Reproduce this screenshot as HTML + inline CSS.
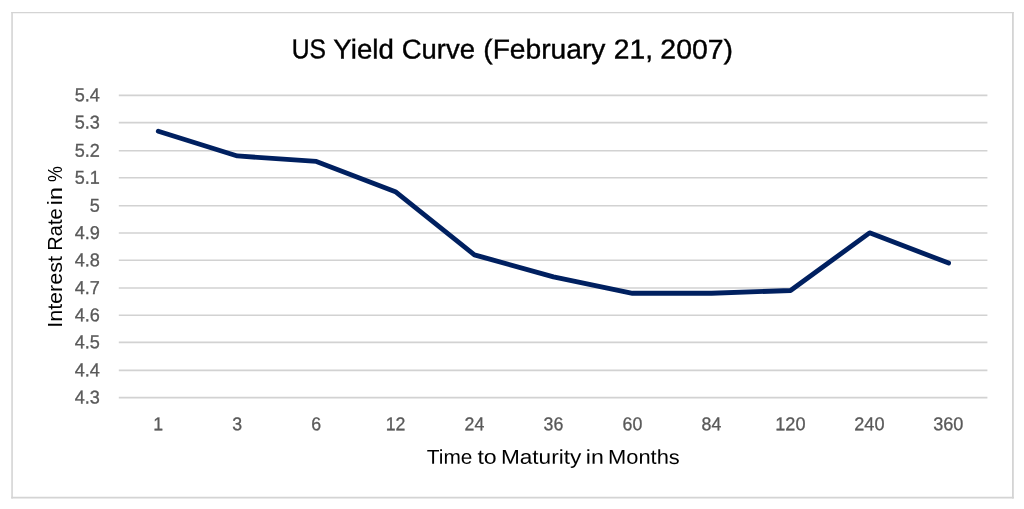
<!DOCTYPE html>
<html lang="en"><head><meta charset="utf-8"><title>US Yield Curve (February 21, 2007)</title>
<style>
html,body{margin:0;padding:0;background:#fff;}
body{width:1024px;height:509px;overflow:hidden;}
svg{display:block;}
text{font-family:"Liberation Sans",sans-serif;}
.tick{font-size:18.6px;fill:#595959;stroke:#595959;stroke-width:0.3px;}
.atitle{font-size:20.0px;fill:#000;}
.title{font-size:27.4px;fill:#000;stroke:#000;stroke-width:0.4px;}
</style></head><body>
<svg width="1024" height="509" viewBox="0 0 1024 509">
<rect x="0" y="0" width="1024" height="509" fill="#fff"/>
<g stroke="#d4d4d4" fill="none">
<line x1="11.25" y1="12.55" x2="1013.8" y2="12.55" stroke-width="1.2"/>
<line x1="12.05" y1="12" x2="12.05" y2="498.5" stroke-width="1.6"/>
<line x1="1012.9" y1="12" x2="1012.9" y2="498.5" stroke-width="1.8"/>
<line x1="11.25" y1="497.65" x2="1013.8" y2="497.65" stroke-width="1.8"/>
</g>

<g stroke="#d2d2d2" stroke-width="1.6">
<line x1="118.8" y1="95.40" x2="987.4" y2="95.40"/>
<line x1="118.8" y1="122.60" x2="987.4" y2="122.60"/>
<line x1="118.8" y1="150.70" x2="987.4" y2="150.70"/>
<line x1="118.8" y1="177.70" x2="987.4" y2="177.70"/>
<line x1="118.8" y1="205.70" x2="987.4" y2="205.70"/>
<line x1="118.8" y1="233.00" x2="987.4" y2="233.00"/>
<line x1="118.8" y1="260.20" x2="987.4" y2="260.20"/>
<line x1="118.8" y1="288.00" x2="987.4" y2="288.00"/>
<line x1="118.8" y1="315.30" x2="987.4" y2="315.30"/>
<line x1="118.8" y1="342.40" x2="987.4" y2="342.40"/>
<line x1="118.8" y1="370.40" x2="987.4" y2="370.40"/>
<line x1="118.8" y1="397.60" x2="987.4" y2="397.60"/>
</g>
<g class="tick" text-anchor="end">
<text transform="translate(99.95 101.35) rotate(0.03) scale(0.975 1)">5.4</text>
<text transform="translate(99.95 128.55) rotate(0.03) scale(0.975 1)">5.3</text>
<text transform="translate(99.95 156.65) rotate(0.03) scale(0.975 1)">5.2</text>
<text transform="translate(99.95 183.65) rotate(0.03) scale(0.975 1)">5.1</text>
<text transform="translate(99.95 211.65) rotate(0.03) scale(0.975 1)">5</text>
<text transform="translate(99.95 238.95) rotate(0.03) scale(0.975 1)">4.9</text>
<text transform="translate(99.95 266.15) rotate(0.03) scale(0.975 1)">4.8</text>
<text transform="translate(99.95 293.95) rotate(0.03) scale(0.975 1)">4.7</text>
<text transform="translate(99.95 321.25) rotate(0.03) scale(0.975 1)">4.6</text>
<text transform="translate(99.95 348.35) rotate(0.03) scale(0.975 1)">4.5</text>
<text transform="translate(99.95 376.35) rotate(0.03) scale(0.975 1)">4.4</text>
<text transform="translate(99.95 403.55) rotate(0.03) scale(0.975 1)">4.3</text>
</g>
<g class="tick" text-anchor="middle">
<text transform="translate(158.28 430.2) rotate(0.03) scale(0.955 1)">1</text>
<text transform="translate(237.25 430.2) rotate(0.03) scale(0.955 1)">3</text>
<text transform="translate(316.21 430.2) rotate(0.03) scale(0.955 1)">6</text>
<text transform="translate(395.52 430.2) rotate(0.03) scale(0.955 1)">12</text>
<text transform="translate(474.49 430.2) rotate(0.03) scale(0.955 1)">24</text>
<text transform="translate(553.45 430.2) rotate(0.03) scale(0.955 1)">36</text>
<text transform="translate(632.41 430.2) rotate(0.03) scale(0.955 1)">60</text>
<text transform="translate(711.38 430.2) rotate(0.03) scale(0.955 1)">84</text>
<text transform="translate(790.39 430.2) rotate(0.03) scale(0.975 1)">120</text>
<text transform="translate(869.35 430.2) rotate(0.03) scale(0.975 1)">240</text>
<text transform="translate(948.32 430.2) rotate(0.03) scale(0.975 1)">360</text>
</g>
<polyline points="158.30,131.22 237.33,155.94 316.36,161.44 395.39,191.65 474.42,254.82 553.45,276.79 632.48,293.27 711.51,293.27 790.54,290.52 869.57,232.84 948.60,263.06" fill="none" stroke="#002060" stroke-width="4.85" stroke-linecap="round" stroke-linejoin="round"/>
<text class="title" y="58.5" transform="rotate(0.04 512 58.5)"><tspan x="291.66" textLength="34.28" lengthAdjust="spacingAndGlyphs">US</tspan> <tspan x="333.37" textLength="60.38" lengthAdjust="spacingAndGlyphs">Yield</tspan> <tspan x="401.81" textLength="73.20" lengthAdjust="spacingAndGlyphs">Curve</tspan> <tspan x="483.28" textLength="122.12" lengthAdjust="spacingAndGlyphs">(February</tspan> <tspan x="613.78" textLength="39.23" lengthAdjust="spacingAndGlyphs">21,</tspan> <tspan x="660.37" textLength="72.65" lengthAdjust="spacingAndGlyphs">2007)</tspan></text>
<text class="atitle" y="463.8" transform="rotate(0.04 553 463.8)"><tspan x="426.87" textLength="45.52" lengthAdjust="spacingAndGlyphs">Time</tspan> <tspan x="477.45" textLength="19.29" lengthAdjust="spacingAndGlyphs">to</tspan> <tspan x="500.93" textLength="80.37" lengthAdjust="spacingAndGlyphs">Maturity</tspan> <tspan x="585.86" textLength="17.99" lengthAdjust="spacingAndGlyphs">in</tspan> <tspan x="608.09" textLength="71.69" lengthAdjust="spacingAndGlyphs">Months</tspan></text>
<text class="atitle" transform="translate(61.8 400) rotate(-89.98)" y="0"><tspan x="72.22" textLength="71.71" lengthAdjust="spacingAndGlyphs">Interest</tspan> <tspan x="149.33" textLength="42.38" lengthAdjust="spacingAndGlyphs">Rate</tspan> <tspan x="194.85" textLength="18.05" lengthAdjust="spacingAndGlyphs">in</tspan> <tspan x="218.04" textLength="15.89" lengthAdjust="spacingAndGlyphs">%</tspan></text>
</svg></body></html>
